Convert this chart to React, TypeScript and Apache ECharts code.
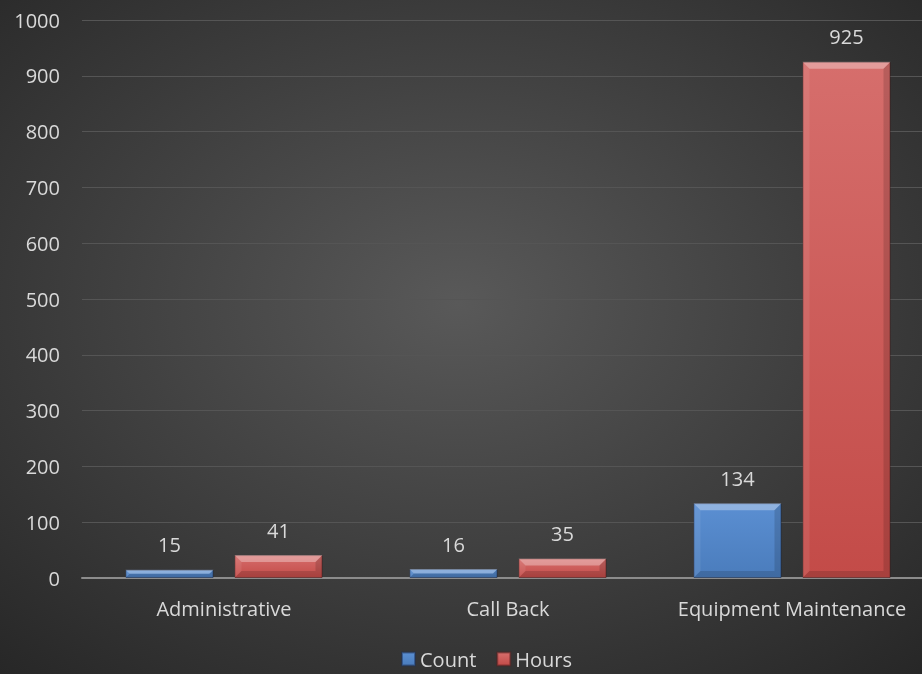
import React, { useEffect, useRef } from "react";
import * as echarts from "echarts";

const categories = ["Administrative", "Call Back", "Equipment Maintenance"];
const countValues = [15, 16, 134];
const hoursValues = [41, 35, 925];
const seriesNames = ["Count", "Hours"];

const FONT = "Open Sans";
const FS = 20;
const BAR_W = 88;
const GAP = 21;

function bevel(sign: number) {
  return (params: any, api: any) => {
    const cat = api.value(0);
    const v = api.value(1);
    const base = api.coord([cat, 0]);
    const top = api.coord([cat, v]);
    const x0 = base[0] + (sign < 0 ? -(BAR_W + GAP / 2) : GAP / 2);
    const w = BAR_W;
    const y0 = top[1];
    const y1 = base[1];
    const b = Math.min(7, (y1 - y0) / 2);
    return {
      type: "group",
      silent: true,
      children: [
        { type: "polygon", shape: { points: [[x0, y0], [x0 + w, y0], [x0 + w - b, y0 + b], [x0 + b, y0 + b]] }, style: { fill: "rgba(255,255,255,0.32)" } },
        { type: "polygon", shape: { points: [[x0, y0], [x0 + b, y0 + b], [x0 + b, y1 - b], [x0, y1]] }, style: { fill: "rgba(255,255,255,0.08)" } },
        { type: "polygon", shape: { points: [[x0 + w, y0], [x0 + w, y1], [x0 + w - b, y1 - b], [x0 + w - b, y0 + b]] }, style: { fill: "rgba(0,0,0,0.14)" } },
        { type: "polygon", shape: { points: [[x0, y1], [x0 + b, y1 - b], [x0 + w - b, y1 - b], [x0 + w, y1]] }, style: { fill: "rgba(0,0,0,0.14)" } },
      ],
    };
  };
}

export default function App() {
  const ref = useRef<HTMLDivElement>(null);
  useEffect(() => {
    if (!ref.current) return;
    const chart = echarts.init(ref.current, null, { renderer: "svg" });
    const label = {
      show: true,
      position: "top" as const,
      distance: 15,
      color: "#d9d9d9",
      fontFamily: FONT,
      fontSize: FS,
    };
    chart.setOption({
      animation: false,
      backgroundColor: {
        type: "radial",
        x: 0.49,
        y: 0.45,
        r: 0.75,
        colorStops: [
          { offset: 0, color: "#595959" },
          { offset: 1, color: "#262626" },
        ],
      },
      textStyle: { fontFamily: FONT },
      legend: {
        data: seriesNames,
        bottom: 0,
        left: 396,
        itemWidth: 13,
        itemHeight: 13,
        itemGap: 20,
        icon: "rect",
        textStyle: { color: "#d9d9d9", fontSize: FS, fontFamily: FONT },
      },
      grid: { left: 82, top: 20, right: 0, height: 558, containLabel: false },
      xAxis: {
        type: "category",
        data: categories,
        axisLine: { lineStyle: { color: "#8c8c8c", width: 2 } },
        axisTick: { show: false },
        axisLabel: {
          color: "#d9d9d9",
          fontSize: FS,
          fontFamily: FONT,
          margin: 20,
          interval: 0,
          hideOverlap: false,
        },
      },
      yAxis: {
        type: "value",
        min: 0,
        max: 1000,
        interval: 100,
        axisLine: { show: false },
        axisTick: { show: false },
        axisLabel: {
          color: "#d9d9d9",
          fontSize: FS,
          fontFamily: FONT,
          margin: 22,
          formatter: (v: number) => String(v),
        },
        splitLine: { lineStyle: { color: "#555555", width: 1 } },
      },
      series: [
        {
          name: seriesNames[0],
          type: "bar",
          data: countValues,
          barWidth: BAR_W,
          barGap: (GAP / BAR_W) * 100 + "%",
          itemStyle: {
            color: {
              type: "linear", x: 0, y: 0, x2: 0, y2: 1,
              colorStops: [
                { offset: 0, color: "#5b8fd2" },
                { offset: 1, color: "#4a7cbc" },
              ],
            },
            borderColor: "rgba(30,50,90,0.5)",
            borderWidth: 1,
          },
          label,
          z: 2,
        },
        {
          name: seriesNames[1],
          type: "bar",
          data: hoursValues,
          barWidth: BAR_W,
          barGap: (GAP / BAR_W) * 100 + "%",
          itemStyle: {
            color: {
              type: "linear", x: 0, y: 0, x2: 0, y2: 1,
              colorStops: [
                { offset: 0, color: "#d66e6c" },
                { offset: 1, color: "#c34b48" },
              ],
            },
            borderColor: "rgba(90,30,30,0.5)",
            borderWidth: 1,
          },
          label,
          z: 2,
        },
        {
          type: "custom",
          renderItem: bevel(-1),
          data: countValues.map((v, i) => [i, v]),
          encode: { x: 0, y: 1 },
          silent: true,
          z: 3,
        },
        {
          type: "custom",
          renderItem: bevel(1),
          data: hoursValues.map((v, i) => [i, v]),
          encode: { x: 0, y: 1 },
          silent: true,
          z: 3,
        },
      ],
    });
    return () => chart.dispose();
  }, []);
  return (
    <div
      style={{ position: "fixed", left: 0, top: 0, width: 922, height: 674, overflow: "hidden" }}
    >
      <div ref={ref} style={{ width: 934, height: 674 }} />
    </div>
  );
}
